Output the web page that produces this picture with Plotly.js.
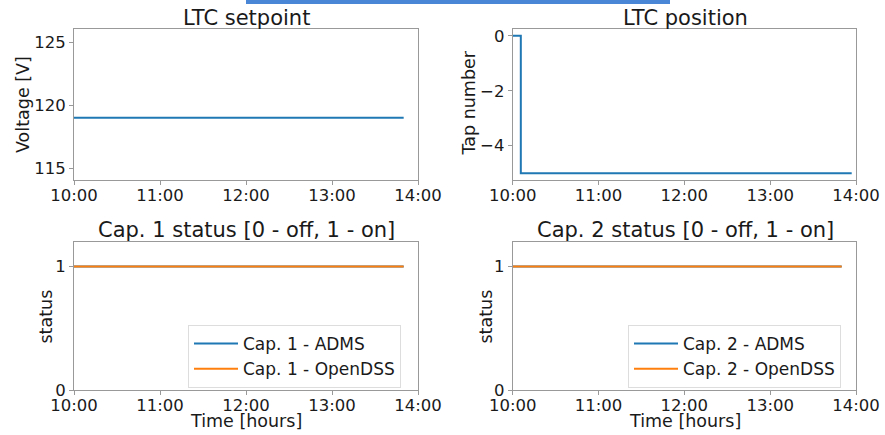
<!DOCTYPE html>
<html>
<head>
<meta charset="utf-8">
<script src="https://cdn.plot.ly/plotly-3.0.1.min.js"></script>
<style>html,body{margin:0;padding:0;background:#fff;}#chart{width:885px;height:435px;}</style>
</head>
<body>
<div id="chart"></div>
<script>
// ---- data ----
const setpointTimes = ["2020-01-01 10:00:00", "2020-01-01 13:50:00"];
const setpointValues = [119, 119];

const tapTimes = ["2020-01-01 10:00:00", "2020-01-01 10:05:40", "2020-01-01 13:57:00"];
const tapValues = [0, -5, -5];

const capTimes = ["2020-01-01 10:00:00", "2020-01-01 13:50:00"];
const cap1Adms = [1, 1];
const cap1OpenDSS = [1, 1];
const cap2Adms = [1, 1];
const cap2OpenDSS = [1, 1];

const xRange = ["2020-01-01 10:00:00", "2020-01-01 14:00:00"];
const titles = ["LTC setpoint", "LTC position", "Cap. 1 status [0 - off, 1 - on]", "Cap. 2 status [0 - off, 1 - on]"];
const xTitle = "Time [hours]";
const yTitles = ["Voltage [V]", "Tap number", "status", "status"];

// ---- style ----
const W = 885, H = 435;
const px = v => v / W;
const py = v => 1 - v / H;
const FONT = "DejaVu Sans, sans-serif";
const BLUE = "#1f77b4", ORANGE = "#ff7f0e";
const TXT = "#1a1a1a";

const traces = [
  {x: setpointTimes, y: setpointValues, xaxis: "x", yaxis: "y", mode: "lines", line: {color: BLUE, width: 2}, showlegend: false},
  {x: tapTimes, y: tapValues, xaxis: "x2", yaxis: "y2", mode: "lines", line: {color: BLUE, width: 2, shape: "hv"}, showlegend: false},
  {x: capTimes, y: cap1Adms, xaxis: "x3", yaxis: "y3", mode: "lines", name: "Cap. 1 - ADMS", line: {color: BLUE, width: 2}, legend: "legend"},
  {x: capTimes, y: cap1OpenDSS, xaxis: "x3", yaxis: "y3", mode: "lines", name: "Cap. 1 - OpenDSS", line: {color: ORANGE, width: 2}, legend: "legend"},
  {x: capTimes, y: cap2Adms, xaxis: "x4", yaxis: "y4", mode: "lines", name: "Cap. 2 - ADMS", line: {color: BLUE, width: 2}, legend: "legend2"},
  {x: capTimes, y: cap2OpenDSS, xaxis: "x4", yaxis: "y4", mode: "lines", name: "Cap. 2 - OpenDSS", line: {color: ORANGE, width: 2}, legend: "legend2"}
];

const leftDom = [px(74), px(418)];
const rightDom = [px(512.7), px(856)];
const topDom = [py(180), py(29)];
const botDom = [py(390), py(241.7)];
const TICK = 16.5, AXT = 17.5, TIT = 21, LEG = 17;

function xax(dom, anchor) {
  return {
    domain: dom, anchor: anchor, type: "date", range: xRange,
    tickformat: "%H:%M", dtick: 3600000, tick0: "2020-01-01 10:00:00",
    showgrid: false, zeroline: false, showline: true, mirror: true,
    linecolor: "#999", linewidth: 1, ticks: "outside", ticklen: 4, tickcolor: "#999",
    ticklabelstandoff: -4,
    tickfont: {family: FONT, size: TICK, color: TXT}, fixedrange: true
  };
}
function yax(dom, anchor, range, tickvals) {
  return {
    domain: dom, anchor: anchor, range: range, tickvals: tickvals,
    showgrid: false, zeroline: false, showline: true, mirror: true,
    linecolor: "#999", linewidth: 1, ticks: "outside", ticklen: 4, tickcolor: "#999",
    tickfont: {family: FONT, size: TICK, color: TXT}, fixedrange: true
  };
}

const legendBase = {
  bgcolor: "rgba(255,255,255,0.9)", bordercolor: "#ddd", borderwidth: 1,
  font: {family: FONT, size: LEG, color: TXT}, xanchor: "left", yanchor: "top",
  tracegroupgap: 0, itemwidth: 44
};

const annBase = {xref: "paper", yref: "paper", xanchor: "center", yanchor: "middle", showarrow: false};
const annotations = [
  {text: titles[0], x: px(246), y: py(17.5), font: {family: FONT, size: TIT, color: TXT}},
  {text: titles[1], x: px(685), y: py(17.5), font: {family: FONT, size: TIT, color: TXT}},
  {text: titles[2], x: px(246), y: py(229.5), font: {family: FONT, size: TIT, color: TXT}},
  {text: titles[3], x: px(685), y: py(229.5), font: {family: FONT, size: TIT, color: TXT}},
  {text: xTitle, x: px(246), y: py(421), font: {family: FONT, size: AXT, color: TXT}},
  {text: xTitle, x: px(685), y: py(421), font: {family: FONT, size: AXT, color: TXT}},
  {text: yTitles[0], x: px(23), y: py(105), textangle: -90, font: {family: FONT, size: AXT, color: TXT}},
  {text: yTitles[1], x: px(468), y: py(103.5), textangle: -90, font: {family: FONT, size: AXT, color: TXT}},
  {text: yTitles[2], x: px(45), y: py(316.5), textangle: -90, font: {family: FONT, size: AXT, color: TXT}},
  {text: yTitles[3], x: px(485), y: py(316.5), textangle: -90, font: {family: FONT, size: AXT, color: TXT}}
].map(a => Object.assign({}, annBase, a));

const layout = {
  width: W, height: H, margin: {l: 0, r: 0, t: 0, b: 0},
  paper_bgcolor: "#fff", plot_bgcolor: "#fff",
  font: {family: FONT, color: TXT},
  xaxis: xax(leftDom, "y"),
  yaxis: yax(topDom, "x", [114.05, 126.05], [115, 120, 125]),
  xaxis2: xax(rightDom, "y2"),
  yaxis2: yax(topDom, "x2", [-5.25, 0.25], [0, -2, -4]),
  xaxis3: xax(leftDom, "y3"),
  yaxis3: yax(botDom, "x3", [0, 1.2], [0, 1]),
  xaxis4: xax(rightDom, "y4"),
  yaxis4: yax(botDom, "x4", [0, 1.2], [0, 1]),
  legend: Object.assign({x: px(188), y: py(325)}, legendBase),
  legend2: Object.assign({x: px(628), y: py(325)}, legendBase),
  annotations: annotations,
  shapes: [{type: "rect", xref: "paper", yref: "paper", x0: px(246), x1: px(670), y0: py(4), y1: 1, fillcolor: "#4a86d6", line: {width: 0}}]
};

Plotly.newPlot("chart", traces, layout, {displayModeBar: false, staticPlot: true});
</script>
</body>
</html>
